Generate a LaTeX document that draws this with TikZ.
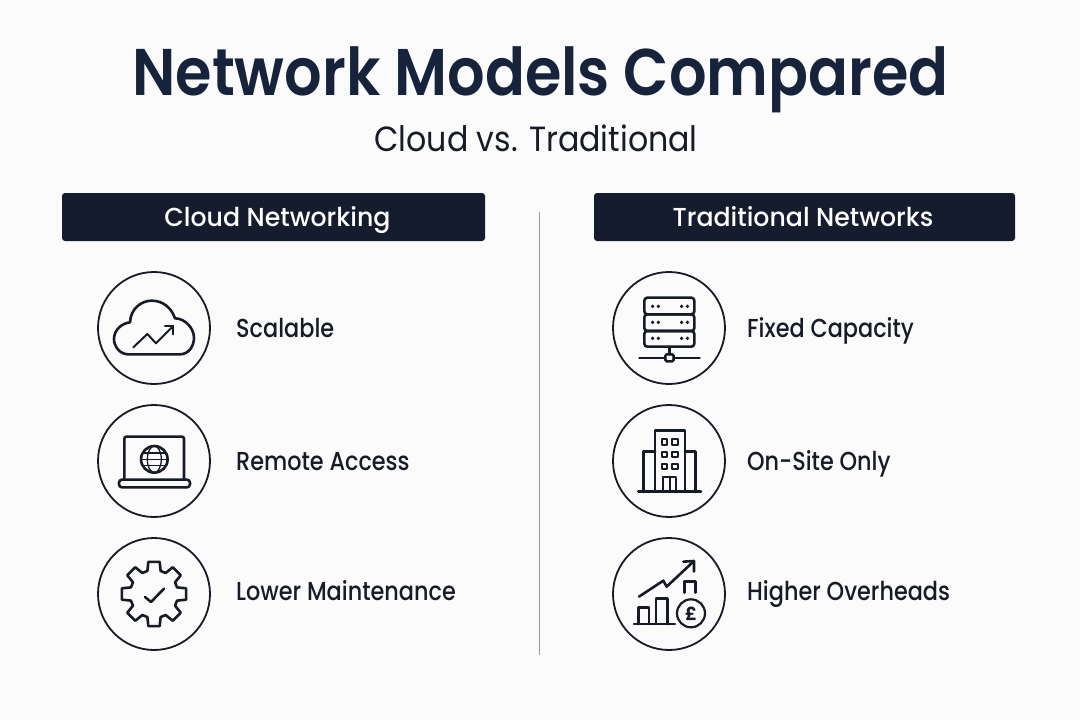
\documentclass[tikz,border=0pt]{standalone}
\usepackage{fontspec}
\setmainfont{Poppins}
\newfontfamily\semifont{Poppins SemiBold}
\newfontfamily\medfont{Poppins Medium}
\definecolor{navy}{HTML}{141C2E}
\definecolor{ink}{HTML}{161B26}
\definecolor{titleink}{HTML}{16233A}
\definecolor{paper}{HTML}{FBFBFB}
\tikzset{
  iconring/.style={circle,draw=ink,line width=1.8pt,minimum size=112pt,inner sep=0pt},
  headbar/.style={rectangle,rounded corners=3pt,fill=navy,minimum height=48pt},
  headtext/.style={anchor=base,text=white,inner sep=0pt,font=\fontsize{26}{30}\medfont\addfontfeature{FakeStretch=0.97}},
  itemlabel/.style={anchor=base west,text=ink,inner sep=0pt,font=\fontsize{26}{30}\medfont\addfontfeature{FakeStretch=0.86}},
  glyph/.style={draw=ink,line width=2.6pt,line join=round,line cap=round,fill=none},
  fineglyph/.style={glyph,line width=2pt},
}
\begin{document}
\begin{tikzpicture}[x=1pt,y=-1pt]
\useasboundingbox (0,0) rectangle (1080,720);
\fill[paper] (0,0) rectangle (1080,720);
\node[anchor=base,inner sep=0pt,text=titleink,font=\fontsize{66}{76}\semifont\addfontfeature{FakeStretch=0.893}] (title) at (540.5,95) {Network Models Compared};
\node[anchor=base,inner sep=0pt,text=ink,font=\fontsize{35}{40}\selectfont\addfontfeature{FakeStretch=0.905}] (subtitle) at (536,151.5) {Cloud vs. Traditional};
\node[headbar,minimum width=423pt] (hl) at (273.5,217) {};
\node[headbar,minimum width=421pt] (hr) at (804.5,217) {};
\node[headtext] (hlt) at (277.5,226) {Cloud Networking};
\node[headtext] (hrt) at (803,226) {Traditional Networks};
\coordinate (divtop) at (539.5,212);
\coordinate (divbot) at (539.5,655);
\draw[draw=gray!80,line width=1pt] (divtop) -- (divbot);
\node[iconring] (c1) at (154,328) {};
\node[iconring] (c2) at (154,461) {};
\node[iconring] (c3) at (154,594) {};
\node[iconring] (c4) at (669,328) {};
\node[iconring] (c5) at (669,461) {};
\node[iconring] (c6) at (669,594) {};
\node[itemlabel] (t1) at (236,337) {Scalable};
\node[itemlabel] (t2) at (236,470) {Remote Access};
\node[itemlabel] (t3) at (236,600) {Lower Maintenance};
\node[itemlabel] (t4) at (747,337) {Fixed Capacity};
\node[itemlabel] (t5) at (747,470) {On-Site Only};
\node[itemlabel] (t6) at (747,600) {Higher Overheads};
% cloud
\begin{scope}[shift={(90,265)},x=0.3333pt,y=-0.3333pt]
\draw[glyph] (115,268) .. controls (90,268) and (72,245) .. (72,222) .. controls (72,195) and (95,175) .. (120,172) .. controls (122,130) and (155,107) .. (185,107) .. controls (220,107) and (245,130) .. (255,160) .. controls (285,160) and (312,190) .. (312,218) .. controls (312,245) and (295,268) .. (270,268) -- cycle;
\draw[fineglyph] (130,247) -- (172,207) -- (198,235) -- (250,183);
\draw[fineglyph] (225,183) -- (250,183) -- (250,208);
\end{scope}
% laptop
\begin{scope}[shift={(90,398)},x=0.3333pt,y=-0.3333pt]
\draw[glyph,rounded corners=2pt] (103,243) -- (103,116) -- (282,116) -- (282,243);
\draw[glyph,rounded corners=3pt] (87,245) rectangle (300,268);
\draw[glyph] (193,184) circle[radius=13.3pt];
\draw[fineglyph,line width=1.3pt] (193,184) ellipse[x radius=7pt,y radius=13.3pt];
\draw[fineglyph,line width=1.3pt] (160,165) -- (226,165) (153,184) -- (233,184) (160,203) -- (226,203);
\end{scope}
% gear
\begin{scope}[shift={(154,594)},x=0.3333pt,y=-0.3333pt]
\draw[glyph] (-16:72) \foreach \a in {0,45,...,315} { -- (\a-16:72) -- (\a-10:98) -- (\a+10:98) -- (\a+16:72)} -- cycle;
\draw[glyph] (-27,9) -- (-9,24) -- (30,-16);
\end{scope}
% server
\begin{scope}[shift={(605,265)},x=0.3333pt,y=-0.3333pt]
\draw[glyph,rounded corners=3pt] (118,98) rectangle (268,148);
\draw[glyph,rounded corners=3pt] (118,148) rectangle (268,198);
\draw[glyph,rounded corners=3pt] (118,198) rectangle (268,245);
\foreach \y in {124,172,220} \foreach \x in {143,160,230,247}
  \fill[ink] (\x,\y) circle[radius=1.9pt];
\draw[glyph] (193,245) -- (193,268);
\draw[glyph,rounded corners=1.5pt] (181,268) rectangle (206,289);
\draw[glyph] (103,279) -- (181,279) (206,279) -- (284,279);
\end{scope}
% building
\begin{scope}[shift={(605,398)},x=0.3333pt,y=-0.3333pt]
\draw[glyph] (150,282) -- (150,98) -- (240,98) -- (240,282);
\draw[glyph] (150,160) -- (115,160) -- (115,282);
\draw[glyph] (240,160) -- (272,160) -- (272,282);
\draw[glyph,line width=3pt] (100,282) -- (288,282);
\foreach \y in {132,170,205} \foreach \x in {179,210}
  \draw[fineglyph] (\x-8,\y-8) rectangle (\x+8,\y+8);
\draw[fineglyph] (175,282) -- (175,238) -- (213,238) -- (213,282);
\draw[fineglyph] (194,238) -- (194,282);
\end{scope}
% finance
\begin{scope}[shift={(605,530)},x=0.3333pt,y=-0.3333pt]
\draw[glyph] (102,200) -- (175,152) -- (185,170) -- (265,95);
\draw[glyph] (235,95) -- (267,93) -- (267,125);
\draw[glyph] (100,282) -- (100,232) -- (132,232) -- (132,282);
\draw[glyph] (153,282) -- (153,205) -- (187,205) -- (187,282);
\draw[glyph] (87,282) -- (210,282);
\draw[glyph] (238,188) -- (238,155) -- (272,155) -- (272,188);
\node[circle,draw=ink,line width=2.2pt,minimum size=28pt,inner sep=0pt,text=ink,font=\fontsize{18}{20}\selectfont\bfseries] (coin) at (258,250) {£};
\end{scope}
\end{tikzpicture}
\end{document}
